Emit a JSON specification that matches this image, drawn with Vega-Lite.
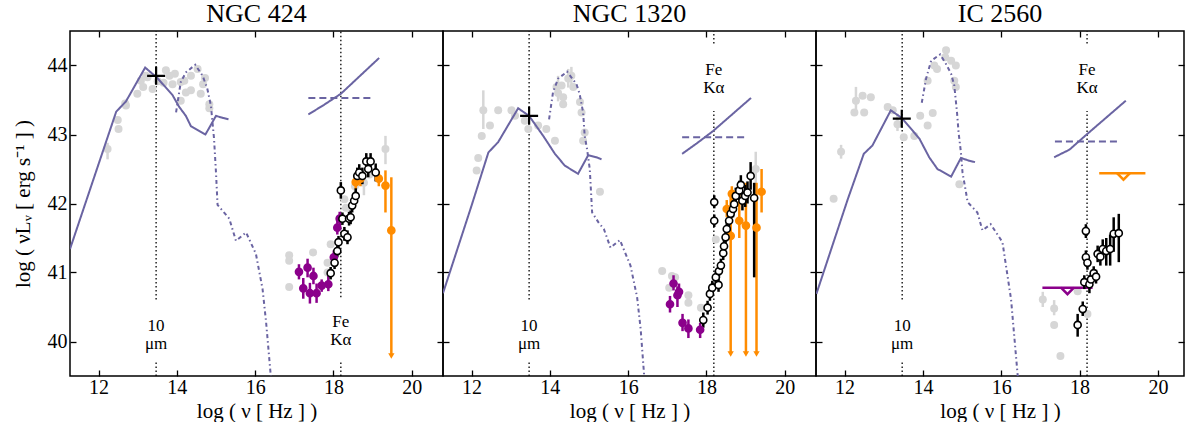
{
  "$schema": "https://vega.github.io/schema/vega-lite/v6.json",
  "padding": {"left": 11, "top": 0, "right": 0, "bottom": 0},
  "spacing": 0,
  "bounds": "flush",
  "background": "white",
  "config": {
    "view": {"stroke": "black", "strokeWidth": 1.5},
    "axis": {
      "domain": false,
      "grid": false,
      "tickColor": "black",
      "tickWidth": 1.3,
      "tickSize": -6,
      "labelFont": "Liberation Serif",
      "labelFontSize": 20,
      "labelColor": "black",
      "titleFont": "Liberation Serif",
      "titleFontSize": 21,
      "titleFontWeight": "normal",
      "titleColor": "black"
    },
    "title": {"font": "Liberation Serif", "fontSize": 26, "fontWeight": "normal", "color": "black", "baseline": "alphabetic", "offset": 3}
  },
  "datasets": {
    "lines": [
      {"g": 1, "s": "ir", "x": 11.27, "y": 41.34},
      {"g": 1, "s": "ir", "x": 12.45, "y": 43.33},
      {"g": 1, "s": "ir", "x": 12.7, "y": 43.48},
      {"g": 1, "s": "ir", "x": 13.19, "y": 43.97},
      {"g": 1, "s": "ir", "x": 13.5, "y": 43.82},
      {"g": 1, "s": "ir", "x": 13.89, "y": 43.57},
      {"g": 1, "s": "ir", "x": 14.06, "y": 43.4},
      {"g": 1, "s": "ir", "x": 14.23, "y": 43.27},
      {"g": 1, "s": "ir", "x": 14.36, "y": 43.12},
      {"g": 1, "s": "ir", "x": 14.73, "y": 43.0},
      {"g": 1, "s": "ir", "x": 15.0, "y": 43.27},
      {"g": 1, "s": "ir", "x": 15.18, "y": 43.24},
      {"g": 1, "s": "ir", "x": 15.32, "y": 43.22},
      {"g": 1, "s": "nir", "x": 13.98, "y": 43.32},
      {"g": 1, "s": "nir", "x": 14.1, "y": 43.76},
      {"g": 1, "s": "nir", "x": 14.23, "y": 43.9},
      {"g": 1, "s": "nir", "x": 14.47, "y": 44.01},
      {"g": 1, "s": "nir", "x": 14.66, "y": 43.85},
      {"g": 1, "s": "nir", "x": 14.78, "y": 43.66},
      {"g": 1, "s": "nir", "x": 14.87, "y": 43.42},
      {"g": 1, "s": "nir", "x": 14.91, "y": 43.18},
      {"g": 1, "s": "nir", "x": 14.95, "y": 42.94},
      {"g": 1, "s": "nir", "x": 15.0, "y": 42.45},
      {"g": 1, "s": "nir", "x": 15.04, "y": 41.98},
      {"g": 1, "s": "nir", "x": 15.34, "y": 41.78},
      {"g": 1, "s": "nir", "x": 15.51, "y": 41.46},
      {"g": 1, "s": "nir", "x": 15.77, "y": 41.58},
      {"g": 1, "s": "nir", "x": 16.02, "y": 41.27},
      {"g": 1, "s": "nir", "x": 16.19, "y": 40.76},
      {"g": 1, "s": "nir", "x": 16.28, "y": 40.28},
      {"g": 1, "s": "nir", "x": 16.4, "y": 39.5},
      {"g": 1, "s": "xr", "x": 17.36, "y": 43.29},
      {"g": 1, "s": "xr", "x": 17.76, "y": 43.43},
      {"g": 1, "s": "xr", "x": 18.19, "y": 43.59},
      {"g": 1, "s": "xr", "x": 19.17, "y": 44.11},
      {"g": 1, "s": "dash", "x": 17.36, "y": 43.53},
      {"g": 1, "s": "dash", "x": 19.0, "y": 43.53},
      {"g": 2, "s": "ir", "x": 11.27, "y": 40.7},
      {"g": 2, "s": "ir", "x": 12.0, "y": 41.97},
      {"g": 2, "s": "ir", "x": 12.43, "y": 42.74},
      {"g": 2, "s": "ir", "x": 12.68, "y": 42.89},
      {"g": 2, "s": "ir", "x": 13.19, "y": 43.38},
      {"g": 2, "s": "ir", "x": 13.47, "y": 43.27},
      {"g": 2, "s": "ir", "x": 13.83, "y": 42.98},
      {"g": 2, "s": "ir", "x": 14.13, "y": 42.72},
      {"g": 2, "s": "ir", "x": 14.38, "y": 42.55},
      {"g": 2, "s": "ir", "x": 14.72, "y": 42.43},
      {"g": 2, "s": "ir", "x": 14.98, "y": 42.7},
      {"g": 2, "s": "ir", "x": 15.19, "y": 42.67},
      {"g": 2, "s": "ir", "x": 15.32, "y": 42.64},
      {"g": 2, "s": "nir", "x": 13.98, "y": 43.22},
      {"g": 2, "s": "nir", "x": 14.08, "y": 43.61},
      {"g": 2, "s": "nir", "x": 14.21, "y": 43.81},
      {"g": 2, "s": "nir", "x": 14.44, "y": 43.91},
      {"g": 2, "s": "nir", "x": 14.68, "y": 43.73},
      {"g": 2, "s": "nir", "x": 14.76, "y": 43.59},
      {"g": 2, "s": "nir", "x": 14.85, "y": 43.32},
      {"g": 2, "s": "nir", "x": 14.89, "y": 42.98},
      {"g": 2, "s": "nir", "x": 14.95, "y": 42.79},
      {"g": 2, "s": "nir", "x": 15.02, "y": 42.5},
      {"g": 2, "s": "nir", "x": 15.08, "y": 41.87},
      {"g": 2, "s": "nir", "x": 15.25, "y": 41.72},
      {"g": 2, "s": "nir", "x": 15.38, "y": 41.63},
      {"g": 2, "s": "nir", "x": 15.55, "y": 41.36},
      {"g": 2, "s": "nir", "x": 15.79, "y": 41.47},
      {"g": 2, "s": "nir", "x": 16.06, "y": 41.1},
      {"g": 2, "s": "nir", "x": 16.23, "y": 40.64},
      {"g": 2, "s": "nir", "x": 16.32, "y": 40.18},
      {"g": 2, "s": "nir", "x": 16.41, "y": 39.5},
      {"g": 2, "s": "xr", "x": 17.38, "y": 42.72},
      {"g": 2, "s": "xr", "x": 17.75, "y": 42.87},
      {"g": 2, "s": "xr", "x": 18.17, "y": 43.05},
      {"g": 2, "s": "xr", "x": 19.14, "y": 43.53},
      {"g": 2, "s": "dash", "x": 17.38, "y": 42.96},
      {"g": 2, "s": "dash", "x": 19.04, "y": 42.96},
      {"g": 3, "s": "ir", "x": 11.28, "y": 40.69},
      {"g": 3, "s": "ir", "x": 12.08, "y": 42.06},
      {"g": 3, "s": "ir", "x": 12.49, "y": 42.72},
      {"g": 3, "s": "ir", "x": 12.71, "y": 42.84},
      {"g": 3, "s": "ir", "x": 13.18, "y": 43.35},
      {"g": 3, "s": "ir", "x": 13.46, "y": 43.24},
      {"g": 3, "s": "ir", "x": 13.91, "y": 42.94},
      {"g": 3, "s": "ir", "x": 14.16, "y": 42.67},
      {"g": 3, "s": "ir", "x": 14.37, "y": 42.5},
      {"g": 3, "s": "ir", "x": 14.72, "y": 42.39},
      {"g": 3, "s": "ir", "x": 14.97, "y": 42.66},
      {"g": 3, "s": "ir", "x": 15.18, "y": 42.62},
      {"g": 3, "s": "ir", "x": 15.33, "y": 42.6},
      {"g": 3, "s": "nir", "x": 13.97, "y": 43.46},
      {"g": 3, "s": "nir", "x": 14.08, "y": 43.81},
      {"g": 3, "s": "nir", "x": 14.21, "y": 44.07},
      {"g": 3, "s": "nir", "x": 14.44, "y": 44.16},
      {"g": 3, "s": "nir", "x": 14.59, "y": 44.02},
      {"g": 3, "s": "nir", "x": 14.72, "y": 43.88},
      {"g": 3, "s": "nir", "x": 14.8, "y": 43.71},
      {"g": 3, "s": "nir", "x": 14.87, "y": 43.32},
      {"g": 3, "s": "nir", "x": 14.91, "y": 43.03},
      {"g": 3, "s": "nir", "x": 14.97, "y": 42.74},
      {"g": 3, "s": "nir", "x": 15.01, "y": 42.45},
      {"g": 3, "s": "nir", "x": 15.1, "y": 42.16},
      {"g": 3, "s": "nir", "x": 15.14, "y": 42.02},
      {"g": 3, "s": "nir", "x": 15.39, "y": 41.87},
      {"g": 3, "s": "nir", "x": 15.52, "y": 41.61},
      {"g": 3, "s": "nir", "x": 15.73, "y": 41.7},
      {"g": 3, "s": "nir", "x": 16.03, "y": 41.44},
      {"g": 3, "s": "nir", "x": 16.25, "y": 40.61},
      {"g": 3, "s": "nir", "x": 16.42, "y": 39.5},
      {"g": 3, "s": "xr", "x": 17.35, "y": 42.67},
      {"g": 3, "s": "xr", "x": 17.74, "y": 42.78},
      {"g": 3, "s": "xr", "x": 18.2, "y": 43.01},
      {"g": 3, "s": "xr", "x": 19.18, "y": 43.49},
      {"g": 3, "s": "dash", "x": 17.37, "y": 42.9},
      {"g": 3, "s": "dash", "x": 19.01, "y": 42.9}
    ],
    "vl": [
      {"g": 1, "x": 13.47, "y1": 40.61, "y2": 44.5},
      {"g": 1, "x": 13.47, "y1": 39.5, "y2": 39.7},
      {"g": 1, "x": 18.19, "y1": 40.64, "y2": 44.5},
      {"g": 1, "x": 18.19, "y1": 39.5, "y2": 39.7},
      {"g": 2, "x": 13.47, "y1": 40.61, "y2": 44.5},
      {"g": 2, "x": 13.47, "y1": 39.5, "y2": 39.7},
      {"g": 2, "x": 18.19, "y1": 44.32, "y2": 44.5},
      {"g": 2, "x": 18.19, "y1": 39.5, "y2": 43.34},
      {"g": 3, "x": 13.47, "y1": 40.61, "y2": 44.5},
      {"g": 3, "x": 13.47, "y1": 39.5, "y2": 39.7},
      {"g": 3, "x": 18.19, "y1": 44.32, "y2": 44.5},
      {"g": 3, "x": 18.19, "y1": 39.5, "y2": 43.34}
    ],
    "lab": [
      {"g": 1, "x": 13.47, "y": 40.23, "t": "10"},
      {"g": 1, "x": 13.47, "y": 39.96, "t": "μm"},
      {"g": 1, "x": 18.19, "y": 40.28, "t": "Fe"},
      {"g": 1, "x": 18.19, "y": 40.02, "t": "Kα"},
      {"g": 2, "x": 13.47, "y": 40.23, "t": "10"},
      {"g": 2, "x": 13.47, "y": 39.96, "t": "μm"},
      {"g": 2, "x": 18.19, "y": 43.94, "t": "Fe"},
      {"g": 2, "x": 18.19, "y": 43.67, "t": "Kα"},
      {"g": 3, "x": 13.47, "y": 40.23, "t": "10"},
      {"g": 3, "x": 13.47, "y": 39.96, "t": "μm"},
      {"g": 3, "x": 18.19, "y": 43.94, "t": "Fe"},
      {"g": 3, "x": 18.19, "y": 43.67, "t": "Kα"}
    ],
    "plus": [
      {"g": 1, "x": 13.47, "y": 43.85},
      {"g": 2, "x": 13.47, "y": 43.27},
      {"g": 3, "x": 13.46, "y": 43.23}
    ],
    "ul": [
      {"g": 3, "c": "purple", "x1": 17.05, "x2": 18.33, "y": 40.78, "xm": 17.69},
      {"g": 3, "c": "orange", "x1": 18.5, "x2": 19.68, "y": 42.44, "xm": 19.12}
    ],
    "pts": [
      {"g": 1, "k": "grey", "x": 12.23, "y": 42.79, "lo": 42.64, "hi": 42.88},
      {"g": 1, "k": "grey", "x": 12.49, "y": 43.21},
      {"g": 1, "k": "grey", "x": 12.51, "y": 43.08},
      {"g": 1, "k": "grey", "x": 12.7, "y": 43.42},
      {"g": 1, "k": "grey", "x": 12.68, "y": 43.45},
      {"g": 1, "k": "grey", "x": 12.99, "y": 43.59},
      {"g": 1, "k": "grey", "x": 13.14, "y": 43.69},
      {"g": 1, "k": "grey", "x": 13.08, "y": 43.78},
      {"g": 1, "k": "grey", "x": 13.21, "y": 43.85},
      {"g": 1, "k": "grey", "x": 13.25, "y": 43.83},
      {"g": 1, "k": "grey", "x": 13.38, "y": 43.66},
      {"g": 1, "k": "grey", "x": 13.51, "y": 43.77},
      {"g": 1, "k": "grey", "x": 13.66, "y": 43.75},
      {"g": 1, "k": "grey", "x": 13.72, "y": 43.93},
      {"g": 1, "k": "grey", "x": 13.81, "y": 43.85},
      {"g": 1, "k": "grey", "x": 13.89, "y": 43.73},
      {"g": 1, "k": "grey", "x": 13.95, "y": 43.88},
      {"g": 1, "k": "grey", "x": 14.1, "y": 43.49},
      {"g": 1, "k": "grey", "x": 14.1, "y": 43.76},
      {"g": 1, "k": "grey", "x": 14.19, "y": 43.78},
      {"g": 1, "k": "grey", "x": 14.23, "y": 43.61},
      {"g": 1, "k": "grey", "x": 14.36, "y": 43.64},
      {"g": 1, "k": "grey", "x": 14.36, "y": 43.85},
      {"g": 1, "k": "grey", "x": 14.53, "y": 43.95},
      {"g": 1, "k": "grey", "x": 14.61, "y": 43.59},
      {"g": 1, "k": "grey", "x": 14.67, "y": 43.73},
      {"g": 1, "k": "grey", "x": 14.72, "y": 43.82},
      {"g": 1, "k": "grey", "x": 14.83, "y": 43.44},
      {"g": 1, "k": "grey", "x": 14.83, "y": 43.38},
      {"g": 1, "k": "grey", "x": 16.87, "y": 41.25},
      {"g": 1, "k": "grey", "x": 16.87, "y": 41.17},
      {"g": 1, "k": "grey", "x": 16.87, "y": 40.79},
      {"g": 1, "k": "grey", "x": 17.48, "y": 41.29},
      {"g": 1, "k": "grey", "x": 17.85, "y": 41.14},
      {"g": 1, "k": "grey", "x": 17.85, "y": 41.0},
      {"g": 1, "k": "grey", "x": 17.93, "y": 41.41},
      {"g": 1, "k": "grey", "x": 18.28, "y": 42.06},
      {"g": 1, "k": "grey", "x": 18.32, "y": 41.94},
      {"g": 1, "k": "grey", "x": 18.55, "y": 42.25, "lo": 42.12, "hi": 42.38},
      {"g": 1, "k": "grey", "x": 18.78, "y": 42.3, "lo": 42.12, "hi": 42.48},
      {"g": 1, "k": "grey", "x": 18.92, "y": 42.42},
      {"g": 1, "k": "grey", "x": 19.33, "y": 42.79, "lo": 42.57, "hi": 42.98},
      {"g": 1, "k": "purple", "x": 17.12, "y": 41.01, "lo": 40.9, "hi": 41.12},
      {"g": 1, "k": "purple", "x": 17.23, "y": 40.77, "lo": 40.62, "hi": 40.92},
      {"g": 1, "k": "purple", "x": 17.34, "y": 41.07, "lo": 40.93, "hi": 41.2},
      {"g": 1, "k": "purple", "x": 17.4, "y": 40.7, "lo": 40.55, "hi": 40.85},
      {"g": 1, "k": "purple", "x": 17.49, "y": 40.95, "lo": 40.83, "hi": 41.07},
      {"g": 1, "k": "purple", "x": 17.57, "y": 40.7, "lo": 40.56, "hi": 40.84},
      {"g": 1, "k": "purple", "x": 17.7, "y": 40.81, "lo": 40.72, "hi": 40.9},
      {"g": 1, "k": "purple", "x": 17.87, "y": 40.83, "lo": 40.73, "hi": 40.95},
      {"g": 1, "k": "purple", "x": 18.01, "y": 41.22, "lo": 41.12, "hi": 41.32},
      {"g": 1, "k": "purple", "x": 18.1, "y": 41.65, "lo": 41.55, "hi": 41.75},
      {"g": 1, "k": "purple", "x": 18.16, "y": 41.78, "lo": 41.68, "hi": 41.88},
      {"g": 1, "k": "orange", "x": 18.57, "y": 42.31, "lo": 42.2, "hi": 42.42},
      {"g": 1, "k": "orange", "x": 18.69, "y": 42.36, "lo": 42.25, "hi": 42.47},
      {"g": 1, "k": "orange", "x": 19.16, "y": 42.36, "lo": 42.25, "hi": 42.47},
      {"g": 1, "k": "orange", "x": 19.33, "y": 42.26, "lo": 41.87, "hi": 42.48},
      {"g": 1, "k": "orange", "x": 19.48, "y": 41.61, "lo": 39.79, "hi": 42.38, "a": 1},
      {"g": 1, "k": "black", "x": 17.93, "y": 40.99, "lo": 40.9, "hi": 41.08},
      {"g": 1, "k": "black", "x": 18.03, "y": 41.14, "lo": 41.05, "hi": 41.23},
      {"g": 1, "k": "black", "x": 18.1, "y": 41.31, "lo": 41.22, "hi": 41.4},
      {"g": 1, "k": "black", "x": 18.13, "y": 41.44, "lo": 41.35, "hi": 41.53},
      {"g": 1, "k": "black", "x": 18.19, "y": 42.19, "lo": 42.07, "hi": 42.31},
      {"g": 1, "k": "black", "x": 18.23, "y": 41.78, "lo": 41.69, "hi": 41.87},
      {"g": 1, "k": "black", "x": 18.28, "y": 41.56, "lo": 41.46, "hi": 41.66},
      {"g": 1, "k": "black", "x": 18.36, "y": 41.51, "lo": 41.41, "hi": 41.61},
      {"g": 1, "k": "black", "x": 18.4, "y": 41.78, "lo": 41.68, "hi": 41.88},
      {"g": 1, "k": "black", "x": 18.44, "y": 41.8, "lo": 41.7, "hi": 41.9},
      {"g": 1, "k": "black", "x": 18.48, "y": 41.97, "lo": 41.87, "hi": 42.07},
      {"g": 1, "k": "black", "x": 18.53, "y": 42.04, "lo": 41.94, "hi": 42.14},
      {"g": 1, "k": "black", "x": 18.57, "y": 42.11, "lo": 42.0, "hi": 42.22},
      {"g": 1, "k": "black", "x": 18.61, "y": 42.4, "lo": 42.28, "hi": 42.52},
      {"g": 1, "k": "black", "x": 18.66, "y": 42.45, "lo": 42.33, "hi": 42.57},
      {"g": 1, "k": "black", "x": 18.74, "y": 42.4, "lo": 42.28, "hi": 42.52},
      {"g": 1, "k": "black", "x": 18.84, "y": 42.61, "lo": 42.49, "hi": 42.73},
      {"g": 1, "k": "black", "x": 18.89, "y": 42.5, "lo": 42.38, "hi": 42.62},
      {"g": 1, "k": "black", "x": 18.95, "y": 42.61, "lo": 42.49, "hi": 42.73},
      {"g": 1, "k": "black", "x": 19.08, "y": 42.45, "lo": 42.32, "hi": 42.58},
      {"g": 2, "k": "grey", "x": 12.3, "y": 43.35, "lo": 43.08, "hi": 43.64},
      {"g": 2, "k": "grey", "x": 12.47, "y": 43.13},
      {"g": 2, "k": "grey", "x": 12.26, "y": 42.98},
      {"g": 2, "k": "grey", "x": 12.17, "y": 42.66},
      {"g": 2, "k": "grey", "x": 12.13, "y": 42.48},
      {"g": 2, "k": "grey", "x": 12.68, "y": 43.35},
      {"g": 2, "k": "grey", "x": 13.02, "y": 43.35},
      {"g": 2, "k": "grey", "x": 13.11, "y": 43.27},
      {"g": 2, "k": "grey", "x": 13.36, "y": 43.2},
      {"g": 2, "k": "grey", "x": 13.45, "y": 43.08},
      {"g": 2, "k": "grey", "x": 13.7, "y": 43.13},
      {"g": 2, "k": "grey", "x": 13.91, "y": 43.08},
      {"g": 2, "k": "grey", "x": 14.13, "y": 42.91},
      {"g": 2, "k": "grey", "x": 14.17, "y": 43.69},
      {"g": 2, "k": "grey", "x": 14.3, "y": 43.71},
      {"g": 2, "k": "grey", "x": 14.34, "y": 43.54},
      {"g": 2, "k": "grey", "x": 14.34, "y": 43.44},
      {"g": 2, "k": "grey", "x": 14.21, "y": 43.6, "lo": 43.48, "hi": 43.85},
      {"g": 2, "k": "grey", "x": 14.47, "y": 43.81, "lo": 43.68, "hi": 43.95},
      {"g": 2, "k": "grey", "x": 14.6, "y": 43.69},
      {"g": 2, "k": "grey", "x": 14.55, "y": 43.85, "lo": 43.7, "hi": 43.98},
      {"g": 2, "k": "grey", "x": 14.77, "y": 43.47},
      {"g": 2, "k": "grey", "x": 14.81, "y": 43.32},
      {"g": 2, "k": "grey", "x": 14.85, "y": 42.91},
      {"g": 2, "k": "grey", "x": 14.89, "y": 43.03},
      {"g": 2, "k": "grey", "x": 15.28, "y": 42.17},
      {"g": 2, "k": "grey", "x": 16.87, "y": 41.02},
      {"g": 2, "k": "grey", "x": 17.05, "y": 40.78},
      {"g": 2, "k": "grey", "x": 17.2, "y": 40.93},
      {"g": 2, "k": "grey", "x": 17.12, "y": 40.95},
      {"g": 2, "k": "grey", "x": 17.54, "y": 40.67},
      {"g": 2, "k": "grey", "x": 17.54, "y": 40.56},
      {"g": 2, "k": "grey", "x": 17.86, "y": 40.49},
      {"g": 2, "k": "grey", "x": 18.24, "y": 41.48},
      {"g": 2, "k": "grey", "x": 19.26, "y": 42.5, "lo": 42.25, "hi": 42.75},
      {"g": 2, "k": "purple", "x": 17.07, "y": 40.54, "lo": 40.42, "hi": 40.66},
      {"g": 2, "k": "purple", "x": 17.16, "y": 40.84, "lo": 40.74, "hi": 40.96},
      {"g": 2, "k": "purple", "x": 17.26, "y": 40.67, "lo": 40.5, "hi": 40.8},
      {"g": 2, "k": "purple", "x": 17.3, "y": 40.72, "lo": 40.62, "hi": 40.84},
      {"g": 2, "k": "purple", "x": 17.39, "y": 40.27, "lo": 40.15, "hi": 40.4},
      {"g": 2, "k": "purple", "x": 17.54, "y": 40.19, "lo": 40.05, "hi": 40.32},
      {"g": 2, "k": "purple", "x": 17.84, "y": 40.17, "lo": 40.05, "hi": 40.27},
      {"g": 2, "k": "orange", "x": 18.52, "y": 41.92, "lo": 41.8, "hi": 42.05},
      {"g": 2, "k": "orange", "x": 18.62, "y": 41.53, "lo": 39.82, "hi": 42.16, "a": 1},
      {"g": 2, "k": "orange", "x": 18.65, "y": 42.14, "lo": 42.0, "hi": 42.25},
      {"g": 2, "k": "orange", "x": 18.84, "y": 41.75, "lo": 41.5, "hi": 42.2},
      {"g": 2, "k": "orange", "x": 19.01, "y": 41.68, "lo": 39.82, "hi": 42.3, "a": 1},
      {"g": 2, "k": "orange", "x": 19.28, "y": 41.65, "lo": 39.82, "hi": 42.3, "a": 1},
      {"g": 2, "k": "orange", "x": 19.41, "y": 42.17, "lo": 41.87, "hi": 42.5},
      {"g": 2, "k": "black", "x": 17.92, "y": 40.31, "lo": 40.2, "hi": 40.42},
      {"g": 2, "k": "black", "x": 18.03, "y": 40.49, "lo": 40.39, "hi": 40.59},
      {"g": 2, "k": "black", "x": 18.09, "y": 40.69, "lo": 40.59, "hi": 40.79},
      {"g": 2, "k": "black", "x": 18.15, "y": 40.78, "lo": 40.68, "hi": 40.88},
      {"g": 2, "k": "black", "x": 18.2, "y": 42.02, "lo": 41.93, "hi": 42.12},
      {"g": 2, "k": "black", "x": 18.2, "y": 41.75, "lo": 41.66, "hi": 41.84},
      {"g": 2, "k": "black", "x": 18.24, "y": 40.93, "lo": 40.83, "hi": 41.03},
      {"g": 2, "k": "black", "x": 18.31, "y": 40.82, "lo": 40.72, "hi": 40.92},
      {"g": 2, "k": "black", "x": 18.32, "y": 41.02, "lo": 40.92, "hi": 41.12},
      {"g": 2, "k": "black", "x": 18.37, "y": 41.1, "lo": 41.0, "hi": 41.2},
      {"g": 2, "k": "black", "x": 18.43, "y": 41.28, "lo": 41.18, "hi": 41.38},
      {"g": 2, "k": "black", "x": 18.45, "y": 41.38, "lo": 41.28, "hi": 41.48},
      {"g": 2, "k": "black", "x": 18.49, "y": 41.51, "lo": 41.41, "hi": 41.61},
      {"g": 2, "k": "black", "x": 18.52, "y": 41.63, "lo": 41.53, "hi": 41.73},
      {"g": 2, "k": "black", "x": 18.58, "y": 41.75, "lo": 41.64, "hi": 41.86},
      {"g": 2, "k": "black", "x": 18.62, "y": 41.85, "lo": 41.73, "hi": 41.97},
      {"g": 2, "k": "black", "x": 18.68, "y": 41.92, "lo": 41.8, "hi": 42.04},
      {"g": 2, "k": "black", "x": 18.71, "y": 41.99, "lo": 41.87, "hi": 42.11},
      {"g": 2, "k": "black", "x": 18.75, "y": 42.11, "lo": 41.99, "hi": 42.23},
      {"g": 2, "k": "black", "x": 18.84, "y": 42.19, "lo": 42.05, "hi": 42.33},
      {"g": 2, "k": "black", "x": 18.88, "y": 42.27, "lo": 42.13, "hi": 42.41},
      {"g": 2, "k": "black", "x": 18.92, "y": 42.04, "lo": 41.9, "hi": 42.18},
      {"g": 2, "k": "black", "x": 18.99, "y": 42.11, "lo": 41.95, "hi": 42.27},
      {"g": 2, "k": "black", "x": 19.05, "y": 42.16, "lo": 42.0, "hi": 42.32},
      {"g": 2, "k": "black", "x": 19.13, "y": 42.4, "lo": 42.2, "hi": 42.6},
      {"g": 2, "k": "black", "x": 19.22, "y": 42.08, "lo": 40.93, "hi": 42.3},
      {"g": 3, "k": "grey", "x": 11.72, "y": 42.07},
      {"g": 3, "k": "grey", "x": 11.91, "y": 42.75, "lo": 42.65, "hi": 42.85},
      {"g": 3, "k": "grey", "x": 12.29, "y": 43.49, "lo": 43.3, "hi": 43.69},
      {"g": 3, "k": "grey", "x": 12.25, "y": 43.32},
      {"g": 3, "k": "grey", "x": 12.46, "y": 43.56},
      {"g": 3, "k": "grey", "x": 12.67, "y": 43.54},
      {"g": 3, "k": "grey", "x": 12.5, "y": 43.32},
      {"g": 3, "k": "grey", "x": 13.1, "y": 43.4},
      {"g": 3, "k": "grey", "x": 13.23, "y": 43.35},
      {"g": 3, "k": "grey", "x": 13.35, "y": 43.15, "lo": 43.05, "hi": 43.3},
      {"g": 3, "k": "grey", "x": 13.51, "y": 42.96},
      {"g": 3, "k": "grey", "x": 13.78, "y": 42.98},
      {"g": 3, "k": "grey", "x": 13.93, "y": 43.27},
      {"g": 3, "k": "grey", "x": 14.12, "y": 43.13},
      {"g": 3, "k": "grey", "x": 14.25, "y": 43.31},
      {"g": 3, "k": "grey", "x": 14.12, "y": 43.78},
      {"g": 3, "k": "grey", "x": 14.29, "y": 44.0},
      {"g": 3, "k": "grey", "x": 14.36, "y": 43.95},
      {"g": 3, "k": "grey", "x": 14.59, "y": 44.22},
      {"g": 3, "k": "grey", "x": 14.57, "y": 44.12},
      {"g": 3, "k": "grey", "x": 14.72, "y": 44.07},
      {"g": 3, "k": "grey", "x": 14.84, "y": 44.0},
      {"g": 3, "k": "grey", "x": 14.8, "y": 43.78},
      {"g": 3, "k": "grey", "x": 14.84, "y": 43.69},
      {"g": 3, "k": "grey", "x": 14.93, "y": 42.28},
      {"g": 3, "k": "grey", "x": 17.06, "y": 40.61, "lo": 40.5, "hi": 40.72},
      {"g": 3, "k": "grey", "x": 17.35, "y": 40.48, "lo": 40.38, "hi": 40.6},
      {"g": 3, "k": "grey", "x": 17.35, "y": 40.24},
      {"g": 3, "k": "grey", "x": 17.51, "y": 39.79},
      {"g": 3, "k": "grey", "x": 17.95, "y": 40.73},
      {"g": 3, "k": "grey", "x": 18.2, "y": 40.4},
      {"g": 3, "k": "black", "x": 17.95, "y": 40.24, "lo": 40.07, "hi": 40.4},
      {"g": 3, "k": "black", "x": 18.08, "y": 40.47, "lo": 40.37, "hi": 40.58},
      {"g": 3, "k": "black", "x": 18.16, "y": 41.6, "lo": 41.5, "hi": 41.7},
      {"g": 3, "k": "black", "x": 18.16, "y": 41.22, "lo": 41.12, "hi": 41.32},
      {"g": 3, "k": "black", "x": 18.2, "y": 41.14, "lo": 41.04, "hi": 41.24},
      {"g": 3, "k": "black", "x": 18.12, "y": 40.86, "lo": 40.76, "hi": 40.96},
      {"g": 3, "k": "black", "x": 18.25, "y": 40.83, "lo": 40.7, "hi": 40.96},
      {"g": 3, "k": "black", "x": 18.29, "y": 40.9, "lo": 40.8, "hi": 41.0},
      {"g": 3, "k": "black", "x": 18.36, "y": 40.99, "lo": 40.89, "hi": 41.09},
      {"g": 3, "k": "black", "x": 18.42, "y": 40.94, "lo": 40.84, "hi": 41.04},
      {"g": 3, "k": "black", "x": 18.46, "y": 41.27, "lo": 41.15, "hi": 41.39},
      {"g": 3, "k": "black", "x": 18.53, "y": 41.23, "lo": 41.1, "hi": 41.36},
      {"g": 3, "k": "black", "x": 18.59, "y": 41.34, "lo": 41.2, "hi": 41.48},
      {"g": 3, "k": "black", "x": 18.68, "y": 41.31, "lo": 41.1, "hi": 41.5},
      {"g": 3, "k": "black", "x": 18.78, "y": 41.34, "lo": 41.1, "hi": 41.55},
      {"g": 3, "k": "black", "x": 18.87, "y": 41.56, "lo": 41.3, "hi": 41.8},
      {"g": 3, "k": "black", "x": 19.0, "y": 41.57, "lo": 41.15, "hi": 41.85}
    ]
  },
  "hconcat": [
    {
      "width": 373,
      "height": 345,
      "title": "NGC 424",
      "layer": [
        {
          "data": {"name": "vl"},
          "transform": [{"filter": "datum.g == 1"}],
          "mark": {"type": "rule", "color": "black", "strokeWidth": 1.3, "strokeDash": [1.5, 2.5]},
          "encoding": {
            "x": {"field": "x", "type": "quantitative", "scale": {"domain": [11.27, 20.8], "nice": false, "zero": false},
                  "axis": {"orient": "bottom", "values": [12, 14, 16, 18, 20], "title": "log ( ν [ Hz ] )", "labelPadding": 7, "titlePadding": 3}},
            "y": {"field": "y1", "type": "quantitative", "scale": {"domain": [39.5, 44.5], "nice": false, "zero": false},
                  "axis": {"orient": "left", "values": [40, 41, 42, 43, 44], "title": "log ( νLᵥ [ erg s⁻¹ ] )", "labelPadding": 9, "titlePadding": 14}},
            "y2": {"field": "y2"}
          }
        },
        {
          "data": {"name": "lab"},
          "transform": [{"filter": "datum.g == 1"}],
          "mark": {"type": "text", "font": "Liberation Serif", "fontSize": 17, "baseline": "middle", "align": "center", "color": "black"},
          "encoding": {
            "x": {"field": "x", "type": "quantitative", "axis": {"orient": "top", "values": [12, 14, 16, 18, 20], "labels": false, "title": null}},
            "y": {"field": "y", "type": "quantitative", "axis": {"orient": "right", "values": [40, 41, 42, 43, 44], "labels": false, "title": null}},
            "text": {"field": "t"}
          }
        },
        {
          "data": {"name": "pts"},
          "transform": [{"filter": "datum.g == 1 && datum.k == 'grey' && isValid(datum.lo)"}],
          "mark": {"type": "rule", "color": "#d6d6d6", "strokeWidth": 2.5},
          "encoding": {
            "x": {"field": "x", "type": "quantitative", "axis": null},
            "y": {"field": "lo", "type": "quantitative", "axis": null},
            "y2": {"field": "hi"}
          }
        },
        {
          "data": {"name": "pts"},
          "transform": [{"filter": "datum.g == 1 && datum.k == 'grey'"}],
          "mark": {"type": "circle", "color": "#d6d6d6", "opacity": 1, "size": 64},
          "encoding": {
            "x": {"field": "x", "type": "quantitative", "axis": null},
            "y": {"field": "y", "type": "quantitative", "axis": null}
          }
        },
        {
          "data": {"name": "lines"},
          "transform": [{"filter": "datum.g == 1"}],
          "mark": {"type": "line", "color": "#6a64a2", "strokeWidth": 2, "clip": true},
          "encoding": {
            "x": {"field": "x", "type": "quantitative", "axis": null},
            "y": {"field": "y", "type": "quantitative", "axis": null},
            "detail": {"field": "s"},
            "order": {"value": null},
            "strokeDash": {"field": "s", "type": "nominal", "legend": null,
                           "scale": {"domain": ["ir", "nir", "xr", "dash"], "range": [[1, 0], [4, 3, 1.5, 3], [1, 0], [7, 4]]}}
          }
        },
        {
          "data": {"name": "pts"},
          "transform": [{"filter": "datum.g == 1 && datum.k != 'grey'"}],
          "mark": {"type": "rule", "strokeWidth": 2.5},
          "encoding": {
            "x": {"field": "x", "type": "quantitative", "axis": null},
            "y": {"field": "lo", "type": "quantitative", "axis": null},
            "y2": {"field": "hi"},
            "color": {"field": "k", "type": "nominal", "legend": null,
                      "scale": {"domain": ["purple", "black", "orange"], "range": ["#8b008b", "black", "#ff8c00"]}}
          }
        },
        {
          "data": {"name": "pts"},
          "transform": [{"filter": "datum.g == 1 && datum.k != 'grey'"}],
          "mark": {"type": "point", "shape": "circle", "filled": true, "size": 50, "strokeWidth": 1.6, "opacity": 1},
          "encoding": {
            "x": {"field": "x", "type": "quantitative", "axis": null},
            "y": {"field": "y", "type": "quantitative", "axis": null},
            "fill": {"field": "k", "type": "nominal", "legend": null,
                     "scale": {"domain": ["purple", "black", "orange"], "range": ["#8b008b", "white", "#ff8c00"]}},
            "stroke": {"field": "k", "type": "nominal", "legend": null,
                       "scale": {"domain": ["purple", "black", "orange"], "range": ["#8b008b", "black", "#ff8c00"]}}
          }
        },
        {
          "data": {"name": "pts"},
          "transform": [{"filter": "datum.g == 1 && datum.a == 1"}],
          "mark": {"type": "point", "shape": "triangle-down", "filled": true, "size": 40, "color": "#ff8c00", "opacity": 1},
          "encoding": {
            "x": {"field": "x", "type": "quantitative", "axis": null},
            "y": {"field": "lo", "type": "quantitative", "axis": null}
          }
        },
        {
          "data": {"name": "plus"},
          "transform": [{"filter": "datum.g == 1"}],
          "mark": {"type": "point", "shape": "M-1,0L1,0M0,-1L0,1", "filled": false, "size": 324, "strokeWidth": 2.2, "color": "black", "opacity": 1},
          "encoding": {
            "x": {"field": "x", "type": "quantitative", "axis": null},
            "y": {"field": "y", "type": "quantitative", "axis": null}
          }
        }
      ]
    },
    {
      "width": 373,
      "height": 345,
      "title": "NGC 1320",
      "layer": [
        {
          "data": {"name": "vl"},
          "transform": [{"filter": "datum.g == 2"}],
          "mark": {"type": "rule", "color": "black", "strokeWidth": 1.3, "strokeDash": [1.5, 2.5]},
          "encoding": {
            "x": {"field": "x", "type": "quantitative", "scale": {"domain": [11.27, 20.8], "nice": false, "zero": false},
                  "axis": {"orient": "bottom", "values": [12, 14, 16, 18, 20], "title": "log ( ν [ Hz ] )", "labelPadding": 7, "titlePadding": 3}},
            "y": {"field": "y1", "type": "quantitative", "scale": {"domain": [39.5, 44.5], "nice": false, "zero": false},
                  "axis": {"orient": "left", "values": [40, 41, 42, 43, 44], "labels": false, "title": null}},
            "y2": {"field": "y2"}
          }
        },
        {
          "data": {"name": "lab"},
          "transform": [{"filter": "datum.g == 2"}],
          "mark": {"type": "text", "font": "Liberation Serif", "fontSize": 17, "baseline": "middle", "align": "center", "color": "black"},
          "encoding": {
            "x": {"field": "x", "type": "quantitative", "axis": {"orient": "top", "values": [12, 14, 16, 18, 20], "labels": false, "title": null}},
            "y": {"field": "y", "type": "quantitative", "axis": {"orient": "right", "values": [40, 41, 42, 43, 44], "labels": false, "title": null}},
            "text": {"field": "t"}
          }
        },
        {
          "data": {"name": "pts"},
          "transform": [{"filter": "datum.g == 2 && datum.k == 'grey' && isValid(datum.lo)"}],
          "mark": {"type": "rule", "color": "#d6d6d6", "strokeWidth": 2.5},
          "encoding": {
            "x": {"field": "x", "type": "quantitative", "axis": null},
            "y": {"field": "lo", "type": "quantitative", "axis": null},
            "y2": {"field": "hi"}
          }
        },
        {
          "data": {"name": "pts"},
          "transform": [{"filter": "datum.g == 2 && datum.k == 'grey'"}],
          "mark": {"type": "circle", "color": "#d6d6d6", "opacity": 1, "size": 64},
          "encoding": {
            "x": {"field": "x", "type": "quantitative", "axis": null},
            "y": {"field": "y", "type": "quantitative", "axis": null}
          }
        },
        {
          "data": {"name": "lines"},
          "transform": [{"filter": "datum.g == 2"}],
          "mark": {"type": "line", "color": "#6a64a2", "strokeWidth": 2, "clip": true},
          "encoding": {
            "x": {"field": "x", "type": "quantitative", "axis": null},
            "y": {"field": "y", "type": "quantitative", "axis": null},
            "detail": {"field": "s"},
            "order": {"value": null},
            "strokeDash": {"field": "s", "type": "nominal", "legend": null,
                           "scale": {"domain": ["ir", "nir", "xr", "dash"], "range": [[1, 0], [4, 3, 1.5, 3], [1, 0], [7, 4]]}}
          }
        },
        {
          "data": {"name": "pts"},
          "transform": [{"filter": "datum.g == 2 && datum.k != 'grey'"}],
          "mark": {"type": "rule", "strokeWidth": 2.5},
          "encoding": {
            "x": {"field": "x", "type": "quantitative", "axis": null},
            "y": {"field": "lo", "type": "quantitative", "axis": null},
            "y2": {"field": "hi"},
            "color": {"field": "k", "type": "nominal", "legend": null,
                      "scale": {"domain": ["purple", "black", "orange"], "range": ["#8b008b", "black", "#ff8c00"]}}
          }
        },
        {
          "data": {"name": "pts"},
          "transform": [{"filter": "datum.g == 2 && datum.k != 'grey'"}],
          "mark": {"type": "point", "shape": "circle", "filled": true, "size": 50, "strokeWidth": 1.6, "opacity": 1},
          "encoding": {
            "x": {"field": "x", "type": "quantitative", "axis": null},
            "y": {"field": "y", "type": "quantitative", "axis": null},
            "fill": {"field": "k", "type": "nominal", "legend": null,
                     "scale": {"domain": ["purple", "black", "orange"], "range": ["#8b008b", "white", "#ff8c00"]}},
            "stroke": {"field": "k", "type": "nominal", "legend": null,
                       "scale": {"domain": ["purple", "black", "orange"], "range": ["#8b008b", "black", "#ff8c00"]}}
          }
        },
        {
          "data": {"name": "pts"},
          "transform": [{"filter": "datum.g == 2 && datum.a == 1"}],
          "mark": {"type": "point", "shape": "triangle-down", "filled": true, "size": 40, "color": "#ff8c00", "opacity": 1},
          "encoding": {
            "x": {"field": "x", "type": "quantitative", "axis": null},
            "y": {"field": "lo", "type": "quantitative", "axis": null}
          }
        },
        {
          "data": {"name": "plus"},
          "transform": [{"filter": "datum.g == 2"}],
          "mark": {"type": "point", "shape": "M-1,0L1,0M0,-1L0,1", "filled": false, "size": 324, "strokeWidth": 2.2, "color": "black", "opacity": 1},
          "encoding": {
            "x": {"field": "x", "type": "quantitative", "axis": null},
            "y": {"field": "y", "type": "quantitative", "axis": null}
          }
        }
      ]
    },
    {
      "width": 368,
      "height": 345,
      "title": "IC 2560",
      "layer": [
        {
          "data": {"name": "vl"},
          "transform": [{"filter": "datum.g == 3"}],
          "mark": {"type": "rule", "color": "black", "strokeWidth": 1.3, "strokeDash": [1.5, 2.5]},
          "encoding": {
            "x": {"field": "x", "type": "quantitative", "scale": {"domain": [11.27, 20.665], "nice": false, "zero": false},
                  "axis": {"orient": "bottom", "values": [12, 14, 16, 18, 20], "title": "log ( ν [ Hz ] )", "labelPadding": 7, "titlePadding": 3}},
            "y": {"field": "y1", "type": "quantitative", "scale": {"domain": [39.5, 44.5], "nice": false, "zero": false},
                  "axis": {"orient": "left", "values": [40, 41, 42, 43, 44], "labels": false, "title": null}},
            "y2": {"field": "y2"}
          }
        },
        {
          "data": {"name": "lab"},
          "transform": [{"filter": "datum.g == 3"}],
          "mark": {"type": "text", "font": "Liberation Serif", "fontSize": 17, "baseline": "middle", "align": "center", "color": "black"},
          "encoding": {
            "x": {"field": "x", "type": "quantitative", "axis": {"orient": "top", "values": [12, 14, 16, 18, 20], "labels": false, "title": null}},
            "y": {"field": "y", "type": "quantitative", "axis": {"orient": "right", "values": [40, 41, 42, 43, 44], "labels": false, "title": null}},
            "text": {"field": "t"}
          }
        },
        {
          "data": {"name": "pts"},
          "transform": [{"filter": "datum.g == 3 && datum.k == 'grey' && isValid(datum.lo)"}],
          "mark": {"type": "rule", "color": "#d6d6d6", "strokeWidth": 2.5},
          "encoding": {
            "x": {"field": "x", "type": "quantitative", "axis": null},
            "y": {"field": "lo", "type": "quantitative", "axis": null},
            "y2": {"field": "hi"}
          }
        },
        {
          "data": {"name": "pts"},
          "transform": [{"filter": "datum.g == 3 && datum.k == 'grey'"}],
          "mark": {"type": "circle", "color": "#d6d6d6", "opacity": 1, "size": 64},
          "encoding": {
            "x": {"field": "x", "type": "quantitative", "axis": null},
            "y": {"field": "y", "type": "quantitative", "axis": null}
          }
        },
        {
          "data": {"name": "lines"},
          "transform": [{"filter": "datum.g == 3"}],
          "mark": {"type": "line", "color": "#6a64a2", "strokeWidth": 2, "clip": true},
          "encoding": {
            "x": {"field": "x", "type": "quantitative", "axis": null},
            "y": {"field": "y", "type": "quantitative", "axis": null},
            "detail": {"field": "s"},
            "order": {"value": null},
            "strokeDash": {"field": "s", "type": "nominal", "legend": null,
                           "scale": {"domain": ["ir", "nir", "xr", "dash"], "range": [[1, 0], [4, 3, 1.5, 3], [1, 0], [7, 4]]}}
          }
        },
        {
          "data": {"name": "ul"},
          "transform": [{"filter": "datum.g == 3"}],
          "mark": {"type": "rule", "strokeWidth": 2.5},
          "encoding": {
            "x": {"field": "x1", "type": "quantitative", "axis": null},
            "x2": {"field": "x2"},
            "y": {"field": "y", "type": "quantitative", "axis": null},
            "color": {"field": "c", "type": "nominal", "legend": null,
                      "scale": {"domain": ["purple", "black", "orange"], "range": ["#8b008b", "black", "#ff8c00"]}}
          }
        },
        {
          "data": {"name": "ul"},
          "transform": [{"filter": "datum.g == 3"}],
          "mark": {"type": "point", "shape": "M-1,0L0,1L1,0", "filled": false, "size": 169, "strokeWidth": 2.5, "opacity": 1},
          "encoding": {
            "x": {"field": "xm", "type": "quantitative", "axis": null},
            "y": {"field": "y", "type": "quantitative", "axis": null},
            "color": {"field": "c", "type": "nominal", "legend": null,
                      "scale": {"domain": ["purple", "black", "orange"], "range": ["#8b008b", "black", "#ff8c00"]}}
          }
        },
        {
          "data": {"name": "pts"},
          "transform": [{"filter": "datum.g == 3 && datum.k != 'grey'"}],
          "mark": {"type": "rule", "strokeWidth": 2.5},
          "encoding": {
            "x": {"field": "x", "type": "quantitative", "axis": null},
            "y": {"field": "lo", "type": "quantitative", "axis": null},
            "y2": {"field": "hi"},
            "color": {"field": "k", "type": "nominal", "legend": null,
                      "scale": {"domain": ["purple", "black", "orange"], "range": ["#8b008b", "black", "#ff8c00"]}}
          }
        },
        {
          "data": {"name": "pts"},
          "transform": [{"filter": "datum.g == 3 && datum.k != 'grey'"}],
          "mark": {"type": "point", "shape": "circle", "filled": true, "size": 50, "strokeWidth": 1.6, "opacity": 1},
          "encoding": {
            "x": {"field": "x", "type": "quantitative", "axis": null},
            "y": {"field": "y", "type": "quantitative", "axis": null},
            "fill": {"field": "k", "type": "nominal", "legend": null,
                     "scale": {"domain": ["purple", "black", "orange"], "range": ["#8b008b", "white", "#ff8c00"]}},
            "stroke": {"field": "k", "type": "nominal", "legend": null,
                       "scale": {"domain": ["purple", "black", "orange"], "range": ["#8b008b", "black", "#ff8c00"]}}
          }
        },
        {
          "data": {"name": "plus"},
          "transform": [{"filter": "datum.g == 3"}],
          "mark": {"type": "point", "shape": "M-1,0L1,0M0,-1L0,1", "filled": false, "size": 324, "strokeWidth": 2.2, "color": "black", "opacity": 1},
          "encoding": {
            "x": {"field": "x", "type": "quantitative", "axis": null},
            "y": {"field": "y", "type": "quantitative", "axis": null}
          }
        }
      ]
    }
  ]
}
